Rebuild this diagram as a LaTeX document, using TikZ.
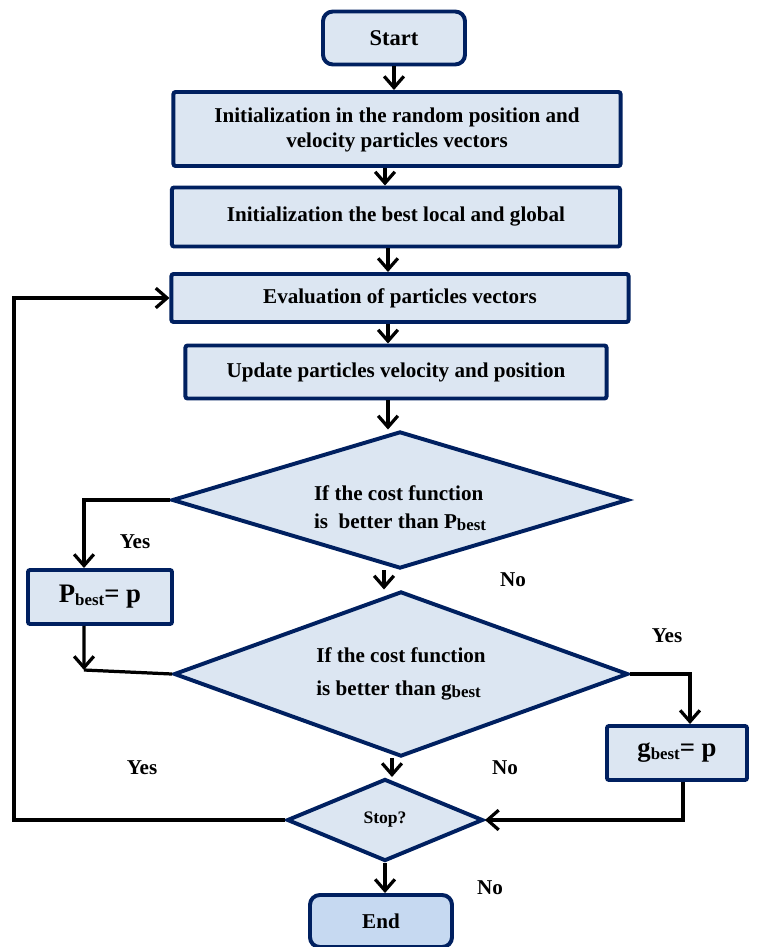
\documentclass[tikz,border=0pt]{standalone}
\usepackage{fontspec}
\setmainfont{Liberation Serif}
\usepackage{tikz}
\usetikzlibrary{arrows.meta,shapes.geometric}

\definecolor{boxfill}{RGB}{220,230,242}
\definecolor{endfill}{RGB}{198,217,241}
\definecolor{boxline}{RGB}{0,32,96}

\newcommand{\bsub}{\raisebox{-0.25ex}{\fontsize{12}{14}\selectfont best}}

\begin{document}
\begin{tikzpicture}[
    x=0.025cm, y=-0.025cm,
    every node/.style = {
      font=\bfseries\fontsize{15}{18}\selectfont,
      align=center
    },
    block/.style = {
      shape=rectangle,
      draw=boxline,
      fill=boxfill,
      line width=2.8pt,
      rounded corners=1.5pt,
      inner sep=0pt
    },
    terminal/.style = {
      block,
      rounded corners=7pt
    },
    decision/.style = {
      shape=diamond,
      draw=boxline,
      fill=boxfill,
      line width=2.8pt,
      inner sep=0pt,
      align=left
    },
    lbl/.style = {
      inner sep=0pt
    },
    arrow/.style = {
      -{Straight Barb[length=8pt,width=14pt,line width=2.3pt]},
      line width=2.3pt
    },
    line/.style = {
      line width=2.3pt
    }
  ]

    \useasboundingbox (0,0) rectangle (758,947);

    % Main column
    \node[terminal, minimum width=3.55cm, minimum height=1.325cm,
          font=\bfseries\fontsize{16}{19}\selectfont] (start) at (394,38) {Start};
    \node[block, minimum width=11.175cm, minimum height=1.85cm] (init) at (397,129)
      {\rule{0pt}{12pt}Initialization in the random position and\\velocity particles vectors};
    \node[block, minimum width=11.2cm, minimum height=1.475cm] (best) at (396,217)
      {Initialization the best local and global};
    \node[block, minimum width=11.425cm, minimum height=1.2cm] (eval) at (400,298)
      {Evaluation of particles vectors};
    \node[block, minimum width=10.525cm, minimum height=1.325cm] (update) at (396,372)
      {Update particles velocity and position};

    % Decisions
    \node[decision, aspect=3.3, minimum width=11.4cm, minimum height=3.425cm] (cond1) at (400,500)
      {\rule{0pt}{22pt}If the cost function\\[2pt]is~ better than P\bsub};
    \node[decision, aspect=2.75, minimum width=11.35cm, minimum height=4.125cm] (cond2) at (401,674)
      {If the cost function\\[5pt]is better than g\bsub};
    \node[decision, aspect=2.4, minimum width=4.9cm, minimum height=2.05cm,
          font=\bfseries\fontsize{12.5}{15}\selectfont] (stop) at (385,820) {Stop?};
    \node[terminal, fill=endfill, minimum width=3.55cm, minimum height=1.3cm] (end) at (381,921) {End};

    % Side boxes
    \node[block, minimum width=3.6cm, minimum height=1.35cm,
          font=\bfseries\fontsize{19}{22}\selectfont] (pbest) at (100,597) {P\bsub= p};
    \node[block, minimum width=3.5cm, minimum height=1.35cm,
          font=\bfseries\fontsize{19}{22}\selectfont] (gbest) at (677,753) {g\bsub= p};

    % Labels
    \node[lbl] (yes1) at (135,542) {Yes};
    \node[lbl] (no1)  at (513,580) {No};
    \node[lbl] (yes2) at (667,636) {Yes};
    \node[lbl] (yes3) at (142,768) {Yes};
    \node[lbl] (no2)  at (505,768) {No};
    \node[lbl] (no3)  at (490,888) {No};

    % Corners
    \coordinate (pcorner) at (84,670);
    \coordinate (loop) at (14,820);

    % Arrows down the main column
    \draw[arrow] (start.south) -- (start.south |- init.north);
    \draw[arrow] ([xshift=-0.3cm]init.south) -- ([xshift=-0.3cm]init.south |- best.north);
    \draw[arrow] ([xshift=-0.2cm]best.south) -- ([xshift=-0.2cm]best.south |- eval.north);
    \draw[arrow] ([xshift=-0.3cm]eval.south) -- ([xshift=-0.3cm]eval.south |- update.north);
    \draw[arrow] ([xshift=-0.2cm]update.south) -- ([xshift=-0.2cm]update.south |- cond1.north);
    \draw[arrow] ([xshift=-0.4cm]cond1.south) -- ([xshift=-0.4cm]cond1.south |- cond2.north);
    \draw[arrow] ([xshift=-0.225cm]cond2.south) -- ([xshift=-0.225cm]cond2.south |- stop.north);
    \draw[arrow] (stop.south) -- (stop.south |- end.north);

    % Yes branches
    \draw[arrow] (cond1.west) -| ([xshift=-0.4cm]pbest.north);
    \draw[arrow] ([xshift=-0.4cm]pbest.south) -- (pcorner);
    \draw[line] (pcorner) -- (cond2.west);
    \draw[arrow] (cond2.east) -| ([xshift=0.325cm]gbest.north);
    \draw[arrow] ([xshift=0.15cm]gbest.south) |- (stop.east);

    % Loop back
    \draw[arrow] (stop.west) -- (loop) |- (eval.west);

\end{tikzpicture}
\end{document}
